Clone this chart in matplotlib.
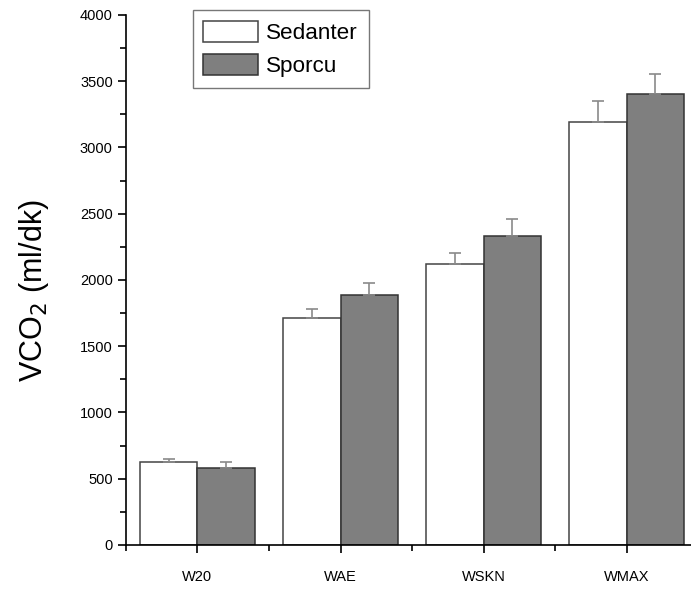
import matplotlib.pyplot as plt
import numpy as np
from matplotlib.ticker import MultipleLocator, FixedLocator

plt.rcParams['font.family'] = ['Liberation Sans', 'DejaVu Sans']

categories = ['W20', 'WAE', 'WSKN', 'WMAX']
sedanter = [625, 1713, 2121, 3192]
sedanter_err = [25, 70, 83, 159]
sporcu = [581, 1887, 2332, 3404]
sporcu_err = [45, 90, 128, 151]

x = np.arange(len(categories))
w = 0.4

fig = plt.figure(figsize=(6.91, 5.9), dpi=100)
ax = fig.add_axes([0.1823, 0.0763, 0.8177, 0.8983])

err_kw = dict(ecolor='#8a8a8a', elinewidth=1.2, capsize=4, capthick=1.2)
ax.bar(x - w/2, sedanter, w, color='white', edgecolor='#444444', linewidth=1.1,
       yerr=[np.zeros(4), sedanter_err], error_kw=err_kw, label='Sedanter')
ax.bar(x + w/2, sporcu, w, color='#7f7f7f', edgecolor='#333333', linewidth=1.1,
       yerr=[np.zeros(4), sporcu_err], error_kw=err_kw, label='Sporcu')

ax.set_xlim(-0.5, 3.45)
ax.set_ylim(0, 4000)
ax.spines['top'].set_visible(False)
ax.spines['right'].set_visible(False)
ax.spines['left'].set_linewidth(1.2)
ax.spines['bottom'].set_linewidth(1.2)

ax.set_xticks(x)
ax.set_xticklabels(categories, fontsize=10.5)
ax.xaxis.set_minor_locator(FixedLocator([-0.5, 0.5, 1.5, 2.5]))
ax.yaxis.set_major_locator(MultipleLocator(500))
ax.yaxis.set_minor_locator(MultipleLocator(250))
ax.tick_params(axis='both', which='major', direction='out', length=6, width=1.2, labelsize=10.5)
ax.tick_params(axis='both', which='minor', direction='out', length=4, width=1.2)
ax.tick_params(axis='x', pad=12)

ax.set_ylabel('VCO$_2$ (ml/dk)', fontsize=22)
ax.yaxis.set_label_coords(-0.133, 0.479)

fig.legend(loc='upper left', bbox_to_anchor=(0.279, 0.983), borderaxespad=0,
           fontsize=16.2, frameon=True, fancybox=False, edgecolor='#555555',
           handlelength=2.45, handleheight=1.08, handletextpad=0.35,
           borderpad=0.47, labelspacing=0.45)

plt.savefig('out.png', dpi=100)
